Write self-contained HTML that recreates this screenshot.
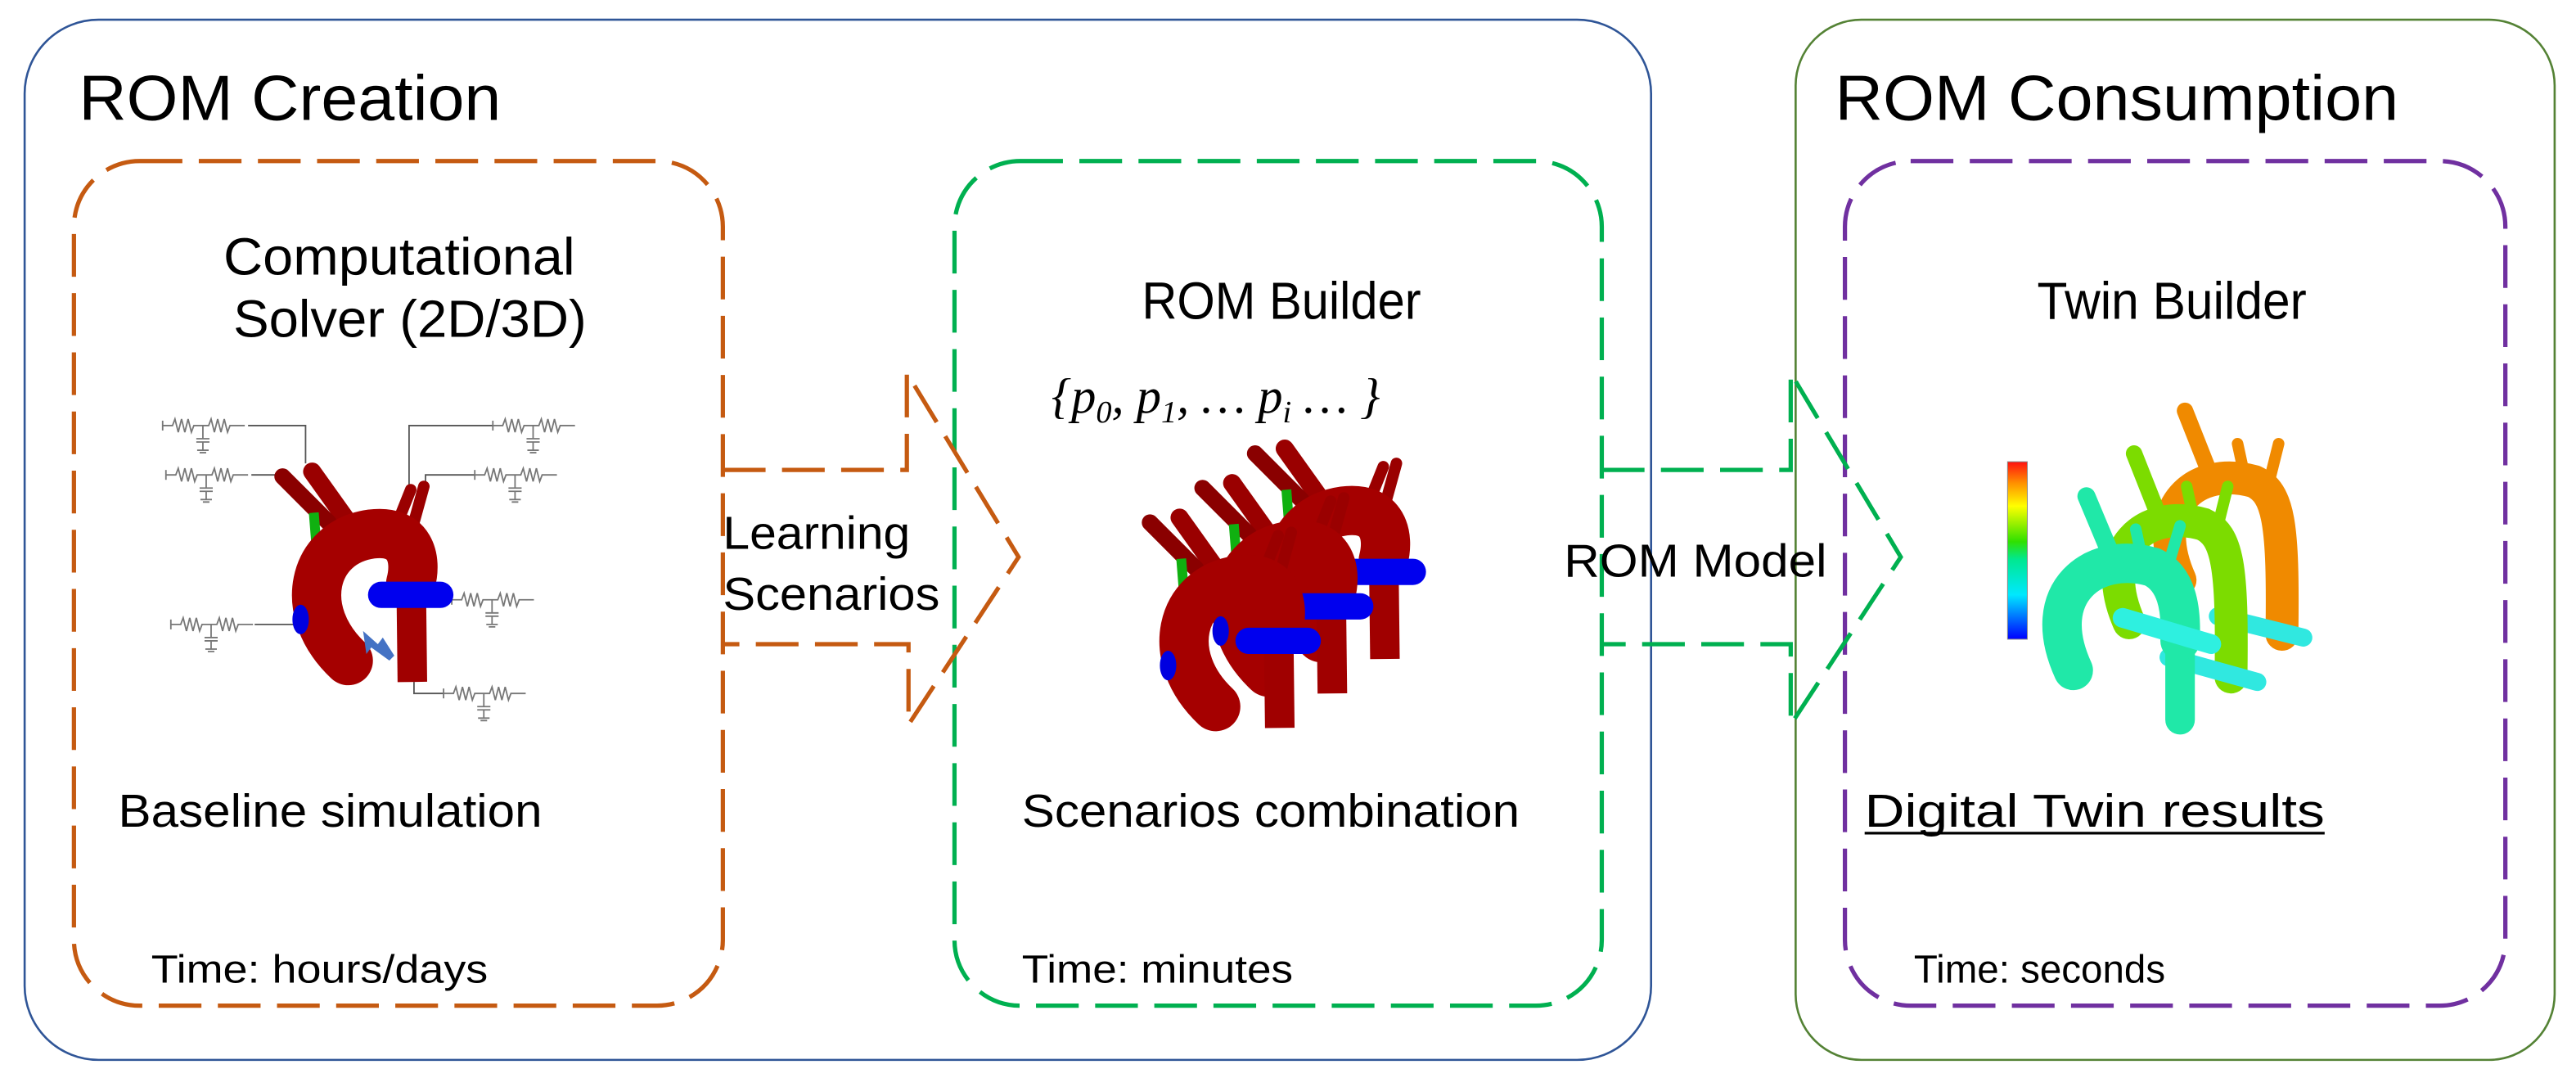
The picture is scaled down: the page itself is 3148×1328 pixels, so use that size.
<!DOCTYPE html>
<html><head><meta charset="utf-8">
<style>
html,body{margin:0;padding:0;background:#fff;}
svg{display:block;}
text{font-family:"Liberation Sans",sans-serif;fill:#000;}
</style></head>
<body>
<svg width="3148" height="1328" viewBox="0 0 1568 661.5" preserveAspectRatio="none" xmlns="http://www.w3.org/2000/svg">
<defs>
<linearGradient id="cb" x1="0" y1="1" x2="0" y2="0">
<stop offset="0" stop-color="#0000ff"/><stop offset="0.25" stop-color="#00e8ff"/><stop offset="0.45" stop-color="#00e890"/><stop offset="0.55" stop-color="#30e000"/><stop offset="0.75" stop-color="#ffff00"/><stop offset="0.88" stop-color="#ff9000"/><stop offset="1" stop-color="#ff1010"/>
</linearGradient>
<g id="circ" fill="none" stroke="#777" stroke-width="0.9">
<path d="M0,0 L6,0 l1.5,-4 l2,8 l2,-8 l2,8 l2,-8 l2,8 l1.5,-4 L28,0 l1.5,-4 l2,8 l2,-8 l2,8 l2,-8 l2,8 l1.5,-4 L50,0"/>
<path d="M24.5,0 V8 M20.5,8 H28.5 M20.5,10 H28.5 M24.5,10 V15 M21,15 H28 M22.5,16.5 H26.5"/>
<path d="M0,-3 V3"/>
</g>
<g id="heart">
<path d="M215,322 L190,287" stroke="#9a0000" stroke-width="11" stroke-linecap="round" fill="none"/>
<path d="M200,318 L172,290" stroke="#8a0000" stroke-width="10" stroke-linecap="round" fill="none"/>
<path d="M242,318 L250,298 M250,325 L258,296" stroke="#9a0000" stroke-width="7" stroke-linecap="round" fill="none"/>
<path d="M191,312 L194,350" stroke="#10b010" stroke-width="6" fill="none"/>
<path d="M250,330 L251,415" stroke="#a00000" stroke-width="18" fill="none"/>
<path d="M212,402 C180,372 190,330 226,325 C250,322 254,340 250,355" stroke="#a50000" stroke-width="30" stroke-linecap="round" fill="none"/>
<ellipse cx="183" cy="377" rx="5" ry="9" fill="#0000e0"/>
<path d="M232,362 L268,362" stroke="#0000ee" stroke-width="16" stroke-linecap="round" fill="none"/>
</g>
</defs>

<rect x="15" y="12" width="990" height="633" rx="45" fill="none" stroke="#2f5597" stroke-width="1.3"/>
<rect x="1093" y="12" width="462" height="633" rx="40" fill="none" stroke="#548235" stroke-width="1.3"/>

<g fill="none" stroke-width="2.6" stroke-dasharray="26,10">
<rect x="45" y="98" width="395" height="514" rx="40" stroke="#c55a11"/>
<rect x="581" y="98" width="394" height="514" rx="40" stroke="#00b050"/>
<rect x="1123" y="98" width="402" height="514" rx="40" stroke="#7030a0"/>
<path d="M440,286 L552,286 L552,227 L620,339 L553,441 L553,392 L440,392" stroke="#c55a11"/>
<path d="M975,286 L1090,286 L1090,227 L1157,339 L1090,441 L1090,392 L975,392" stroke="#00b050"/>
</g>

<text x="48" y="73" font-size="39" textLength="257" lengthAdjust="spacingAndGlyphs">ROM Creation</text>
<text x="1117" y="73" font-size="39" textLength="343" lengthAdjust="spacingAndGlyphs">ROM Consumption</text>
<text x="136" y="167" font-size="32" textLength="214" lengthAdjust="spacingAndGlyphs">Computational</text>
<text x="142" y="205" font-size="32" textLength="215" lengthAdjust="spacingAndGlyphs">Solver (2D/3D)</text>
<text x="72" y="503" font-size="28" textLength="258" lengthAdjust="spacingAndGlyphs">Baseline simulation</text>
<text x="92" y="598" font-size="24" textLength="205" lengthAdjust="spacingAndGlyphs">Time: hours/days</text>
<text x="440" y="334" font-size="28" textLength="114" lengthAdjust="spacingAndGlyphs">Learning</text>
<text x="440" y="371" font-size="28" textLength="132" lengthAdjust="spacingAndGlyphs">Scenarios</text>
<text x="695" y="194" font-size="32" textLength="170" lengthAdjust="spacingAndGlyphs">ROM Builder</text>
<text x="640" y="251" font-size="30" textLength="200" lengthAdjust="spacingAndGlyphs" style="font-family:'Liberation Serif',serif;font-style:italic">{p<tspan font-size="19" dy="6">0</tspan><tspan dy="-6">, p</tspan><tspan font-size="19" dy="6">1</tspan><tspan dy="-6">, … p</tspan><tspan font-size="19" dy="6">i</tspan><tspan dy="-6"> … }</tspan></text>
<text x="622" y="503" font-size="28" textLength="303" lengthAdjust="spacingAndGlyphs">Scenarios combination</text>
<text x="622" y="598" font-size="24" textLength="165" lengthAdjust="spacingAndGlyphs">Time: minutes</text>
<text x="952" y="351" font-size="28" textLength="160" lengthAdjust="spacingAndGlyphs">ROM Model</text>
<text x="1240" y="194" font-size="32" textLength="164" lengthAdjust="spacingAndGlyphs">Twin Builder</text>
<text x="1135" y="503" font-size="28" textLength="280" lengthAdjust="spacingAndGlyphs">Digital Twin results</text>
<line x1="1135" y1="507" x2="1415" y2="507" stroke="#000" stroke-width="1.6"/>
<text x="1165" y="598" font-size="24" textLength="153" lengthAdjust="spacingAndGlyphs">Time: seconds</text>

<g>
<path d="M151,259 H186 V282 M153,289 H168 M155,380 H181 M249,305 V259 H300 M259,296 V289 H289 M268,365 H275 M252,415 V422 H270" fill="none" stroke="#555" stroke-width="0.9"/>
<use href="#circ" x="99" y="259"/>
<use href="#circ" x="101" y="289"/>
<use href="#circ" x="104" y="380"/>
<use href="#circ" x="300" y="259"/>
<use href="#circ" x="289" y="289"/>
<use href="#circ" x="275" y="365"/>
<use href="#circ" x="270" y="422"/>
<use href="#heart"/>
<path d="M221,384 L230,392 L233,388 L240,399 L237,402 L226,394 L223,398 Z" fill="#4472c4"/>
</g>

<g transform="translate(592,-14)"><use href="#heart"/></g>
<g transform="translate(560,7)"><use href="#heart"/></g>
<g transform="translate(528,28)"><use href="#heart"/></g>

<rect x="1222" y="281" width="12" height="108" fill="url(#cb)" stroke="#888" stroke-width="0.5"/>

<g fill="none" stroke-linecap="round">
<g transform="translate(62,-52)" stroke="#f08a00">
<path d="M1265,405 C1245,360 1275,335 1310,345 C1325,352 1328,370 1327,438" stroke-width="20"/>
<path d="M1285,345 L1268,302" stroke-width="10"/>
<path d="M1305,345 L1300,322 M1318,350 L1325,322" stroke-width="7"/>
</g>
<path d="M1350,375 L1402,388" stroke="#30e8e0" stroke-width="11"/>
<g transform="translate(31,-26)" stroke="#7cdc00">
<path d="M1265,405 C1245,360 1275,335 1310,345 C1325,352 1328,370 1327,438" stroke-width="20"/>
<path d="M1285,345 L1268,302" stroke-width="10"/>
<path d="M1305,345 L1300,322 M1318,350 L1325,322" stroke-width="7"/>
</g>
<path d="M1320,400 L1374,415" stroke="#30e8e0" stroke-width="11"/>
<g stroke="#20e8a8">
<path d="M1327,380 L1327,438" stroke-width="18"/>
<path d="M1262,408 C1240,360 1275,335 1310,345 C1325,352 1328,370 1327,390" stroke-width="24"/>
<path d="M1288,345 L1270,302" stroke-width="11"/>
<path d="M1305,345 L1300,322 M1318,350 L1327,320" stroke-width="7"/>
</g>
<path d="M1292,376 L1346,392" stroke="#2ef0e0" stroke-width="12"/>
</g>
</svg>
</body></html>
